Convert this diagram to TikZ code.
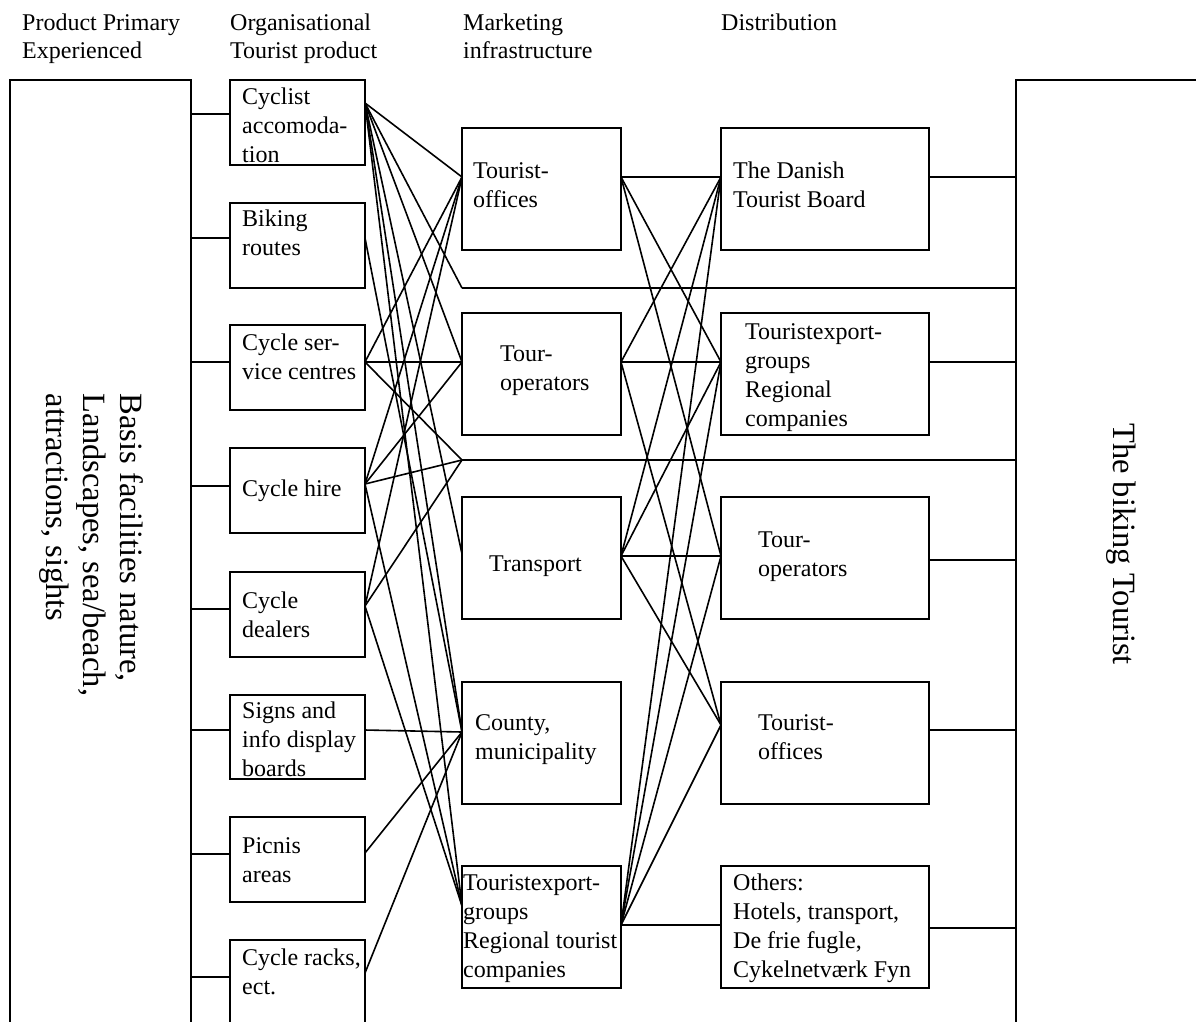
\documentclass[tikz,border=0pt]{standalone}
\usepackage{fontspec}
\setmainfont{Liberation Serif}
\usetikzlibrary{calc}
\newcommand{\fsN}{\fontsize{24}{29}\selectfont}
\newcommand{\fsH}{\fontsize{24}{28}\selectfont}
\newcommand{\fsB}{\fontsize{32.5}{37}\selectfont}
\newcommand{\boxtxt}[1]{\parbox[t]{300pt}{\raggedright #1}}
\begin{document}
\begin{tikzpicture}[x=1pt,y=-1pt,
  box/.style={draw, line width=1.6pt, inner sep=0pt, outer sep=0pt, anchor=north west},
  obox/.style={box, minimum width=135pt, minimum height=85pt},
  mbox/.style={box, minimum width=159pt, minimum height=122pt},
  dbox/.style={box, minimum width=208pt, minimum height=122pt},
  lbl/.style={anchor=base west, inner sep=0pt, font=\fsN},
  hdr/.style={anchor=base west, inner sep=0pt, font=\fsH},
  link/.style={line width=1.6pt}]
\useasboundingbox (0,0) rectangle (1196,1021);
\clip (0,0) rectangle (1196,1021);
\fill[white] (0,0) rectangle (1196,1021);

% headers
\node[hdr] (h1) at (22,30) {\boxtxt{Product Primary\\Experienced}};
\node[hdr] (h2) at (230,30) {\boxtxt{Organisational\\Tourist product}};
\node[hdr] (h3) at (463,30) {\boxtxt{Marketing\\infrastructure}};
\node[hdr] (h4) at (721,30) {\boxtxt{Distribution}};

% big boxes
\node[box, minimum width=181pt, minimum height=990pt] (basis) at (10,80) {};
\node[box, minimum width=220pt, minimum height=990pt] (tourist) at (1016,80) {};
\node[rotate=-90, align=left, font=\fsB, inner sep=0pt] (basisT) at (91,545)
  {Basis facilities nature,\\Landscapes, sea/beach,\\attractions, sights};
\node[rotate=-90, font=\fsB, inner sep=0pt] (touristT) at (1121,544) {The biking Tourist};

% organisational tourist product
\node[obox] (cyc) at (230,80) {};
\node[obox] (bik) at (230,203) {};
\node[obox] (ser) at (230,325) {};
\node[obox] (hire) at (230,448) {};
\node[obox] (deal) at (230,572) {};
\node[obox, minimum height=84pt] (sign) at (230,695) {};
\node[obox] (pic) at (230,817) {};
\node[obox, minimum height=130pt] (rack) at (230,940) {};

\node[lbl] (tcyc) at (242,104) {\boxtxt{Cyclist\\accomoda-\\tion}};
\node[lbl] (tbik) at (242,226) {\boxtxt{Biking\\routes}};
\node[lbl] (tser) at (242,350) {\boxtxt{Cycle ser-\\vice centres}};
\node[lbl] (thire) at (242,496) {\boxtxt{Cycle hire}};
\node[lbl] (tdeal) at (242,608) {\boxtxt{Cycle\\dealers}};
\node[lbl] (tsign) at (242,718) {\boxtxt{Signs and\\info display\\boards}};
\node[lbl] (tpic) at (242,853) {\boxtxt{Picnis\\areas}};
\node[lbl] (track) at (242,965) {\boxtxt{Cycle racks,\\ect.}};

% marketing infrastructure
\node[mbox] (mTO) at (462,128) {};
\node[mbox] (mTOp) at (462,313) {};
\node[mbox] (mTr) at (462,497) {};
\node[mbox] (mCo) at (462,682) {};
\node[mbox] (mTE) at (462,866) {};

\node[lbl] (tmTO) at (473,178) {\boxtxt{Tourist-\\offices}};
\node[lbl] (tmTOp) at (500,361) {\boxtxt{Tour-\\operators}};
\node[lbl] (tmTr) at (489,571) {\boxtxt{Transport}};
\node[lbl] (tmCo) at (475,730) {\boxtxt{County,\\municipality}};
\node[lbl] (tmTE) at (463,890) {\boxtxt{Touristexport-\\groups\\Regional tourist\\companies}};

% distribution
\node[dbox] (dDTB) at (721,128) {};
\node[dbox] (dTEx) at (721,313) {};
\node[dbox] (dTOp) at (721,497) {};
\node[dbox] (dTOf) at (721,682) {};
\node[dbox] (dOth) at (721,866) {};

\node[lbl] (tdDTB) at (733,178) {\boxtxt{The Danish\\Tourist Board}};
\node[lbl] (tdTEx) at (745,339) {\boxtxt{Touristexport-\\groups\\Regional\\companies}};
\node[lbl] (tdTOp) at (758,547) {\boxtxt{Tour-\\operators}};
\node[lbl] (tdTOf) at (758,730) {\boxtxt{Tourist-\\offices}};
\node[lbl] (tdOth) at (733,890) {\boxtxt{Others:\\Hotels, transport,\\De frie fugle,\\Cykelnetv\ae rk Fyn}};

% connection points
\coordinate (cycL) at ([yshift=-34pt]cyc.north west);
\coordinate (bikL) at ([yshift=-35pt]bik.north west);
\coordinate (serL) at ([yshift=-37pt]ser.north west);
\coordinate (hireL) at ([yshift=-38pt]hire.north west);
\coordinate (dealL) at ([yshift=-37pt]deal.north west);
\coordinate (signL) at ([yshift=-35pt]sign.north west);
\coordinate (picL) at ([yshift=-37pt]pic.north west);
\coordinate (rackL) at ([yshift=-37pt]rack.north west);

\coordinate (cycR) at ([yshift=-23pt]cyc.north east);
\coordinate (bikR) at ([yshift=-35pt]bik.north east);
\coordinate (serR) at ([yshift=-37pt]ser.north east);
\coordinate (hireR) at ([yshift=-36pt]hire.north east);
\coordinate (dealR) at ([yshift=-34pt]deal.north east);
\coordinate (signR) at ([yshift=-35pt]sign.north east);
\coordinate (picR) at ([yshift=-36pt]pic.north east);
\coordinate (rackR) at ([yshift=-33pt]rack.north east);

\coordinate (mTOL) at ([yshift=-49pt]mTO.north west);
\coordinate (mTOpL) at ([yshift=-49pt]mTOp.north west);
\coordinate (mTrL) at ([yshift=-57pt]mTr.north west);
\coordinate (mCoL) at ([yshift=-50pt]mCo.north west);
\coordinate (mTEL) at ([yshift=-40pt]mTE.north west);
\coordinate (j288) at ([yshift=-38pt]mTO.south west);
\coordinate (j460) at ([yshift=-25pt]mTOp.south west);

\coordinate (mTOR) at ([yshift=-49pt]mTO.north east);
\coordinate (mTOpR) at ([yshift=-49pt]mTOp.north east);
\coordinate (mTrR) at ([yshift=-59pt]mTr.north east);
\coordinate (mTER) at ([yshift=-59pt]mTE.north east);

\coordinate (dDTBL) at ([yshift=-49pt]dDTB.north west);
\coordinate (dTExL) at ([yshift=-49pt]dTEx.north west);
\coordinate (dTOpL) at ([yshift=-59pt]dTOp.north west);
\coordinate (dTOfL) at ([yshift=-43pt]dTOf.north west);
\coordinate (dOthL) at ([yshift=-59pt]dOth.north west);

\coordinate (dDTBR) at ([yshift=-49pt]dDTB.north east);
\coordinate (dTExR) at ([yshift=-49pt]dTEx.north east);
\coordinate (dTOpR) at ([yshift=-63pt]dTOp.north east);
\coordinate (dTOfR) at ([yshift=-48pt]dTOf.north east);
\coordinate (dOthR) at ([yshift=-62pt]dOth.north east);

% basis -> organisational products
\foreach \t in {cycL,bikL,serL,hireL,dealL,signL,picL,rackL}
  \draw[link] (basis.east |- \t) -- (\t);

% organisational -> marketing
\foreach \t in {mTOL,j288,mTOpL,mTrL,mCoL,mTEL} \draw[link] (cycR) -- (\t);
\draw[link] (bikR) -- (mCoL);
\foreach \t in {mTOL,mTOpL,j460} \draw[link] (serR) -- (\t);
\foreach \t in {mTOL,mTOpL,j460,mTEL} \draw[link] (hireR) -- (\t);
\foreach \t in {mTOL,j460,mTEL} \draw[link] (dealR) -- (\t);
\draw[link] (signR) -- (mCoL);
\draw[link] (picR) -- (mCoL);
\draw[link] (rackR) -- (mCoL);

% direct lines to the tourist
\draw[link] (j288) -- (tourist.west |- j288);
\draw[link] (j460) -- (tourist.west |- j460);

% marketing -> distribution
\foreach \t in {dDTBL,dTExL,dTOpL} \draw[link] (mTOR) -- (\t);
\foreach \t in {dDTBL,dTExL,dTOfL} \draw[link] (mTOpR) -- (\t);
\foreach \t in {dDTBL,dTExL,dTOpL,dTOfL} \draw[link] (mTrR) -- (\t);
\foreach \t in {dDTBL,dTExL,dTOpL,dTOfL,dOthL} \draw[link] (mTER) -- (\t);

% distribution -> tourist
\foreach \s in {dDTBR,dTExR,dTOpR,dTOfR,dOthR}
  \draw[link] (\s) -- (tourist.west |- \s);
\end{tikzpicture}
\end{document}
